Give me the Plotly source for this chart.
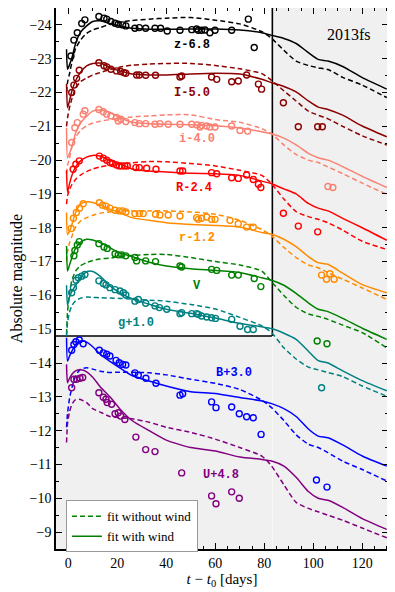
import plotly.graph_objects as go

# ---------------- data (displayed absolute magnitudes incl. offsets) ----------------
bands = ["z", "I", "i", "R", "r", "V", "g", "B", "U"]
band_labels = ["z-6.8", "I-5.0", "i-4.0", "R-2.4", "r-1.2", "V", "g+1.0", "B+3.0", "U+4.8"]
band_colors = ["#000000", "#8b0000", "#fa8072", "#ff0000", "#ff8c00",
               "#008000", "#008080", "#0000ff", "#800080"]
label_t = [50.5, 50.3, 52.5, 51.3, 52.5, 52.6, 27.6, 67.6, 62.3]
label_mag = [-23.41, -22.0, -20.62, -19.19, -17.71, -16.28, -15.19, -13.7, -10.7]

# model time grid [days]
t_model = [-0.7, -0.3, 0.5, 1.5, 3, 5, 7.5, 10, 13, 17, 21, 26, 33, 40, 50, 60, 70,
           79, 83, 88, 93, 98, 102, 106, 112, 120, 130]

# fit with wind (solid)
z_wind = [-23.28, -22.69, -22.82, -23.03, -23.45, -23.78, -23.97, -24.1, -24.12, -24.04, -23.97,
          -23.9, -23.87, -23.87, -23.88, -23.88, -23.85, -23.77, -23.69, -23.6, -23.45, -23.18,
          -22.98, -22.93, -22.77, -22.44, -22.1]
I_wind = [-22.25, -21.55, -21.75, -22.05, -22.35, -22.6, -22.79, -22.86, -22.87, -22.74, -22.64,
          -22.55, -22.52, -22.52, -22.55, -22.57, -22.55, -22.39, -22.29, -22.18, -22.02, -21.75,
          -21.57, -21.5, -21.33, -21.01, -20.69]
i_wind = [-20.96, -20.07, -20.2, -20.4, -20.8, -21.1, -21.3, -21.45, -21.48, -21.41, -21.26,
          -21.12, -21.08, -21.06, -21.05, -21.02, -20.95, -20.84, -20.78, -20.65, -20.45, -20.2,
          -20.07, -20.0, -19.81, -19.52, -19.19]
R_wind = [-19.7, -19.05, -19.3, -19.55, -19.8, -19.98, -20.09, -20.14, -20.12, -20.0, -19.9,
          -19.74, -19.68, -19.65, -19.61, -19.6, -19.55, -19.38, -19.3, -19.15, -19.0, -18.72,
          -18.58, -18.5, -18.28, -18.0, -17.63]
r_wind = [-18.45, -17.8, -17.9, -18.1, -18.45, -18.7, -18.77, -18.75, -18.67, -18.55, -18.45,
          -18.3, -18.22, -18.15, -18.1, -18.07, -18.02, -17.86, -17.81, -17.66, -17.44, -17.15,
          -16.97, -16.92, -16.66, -16.32, -16.08]
V_wind = [-17.46, -16.72, -16.9, -17.12, -17.4, -17.57, -17.66, -17.64, -17.56, -17.41, -17.26,
          -17.15, -16.98, -16.87, -16.79, -16.74, -16.68, -16.52, -16.45, -16.3, -16.06, -15.78,
          -15.59, -15.52, -15.32, -15.03, -14.7]
g_wind = [-16.3, -15.7, -15.95, -16.12, -16.3, -16.52, -16.7, -16.71, -16.57, -16.28, -16.08,
          -15.9, -15.74, -15.59, -15.47, -15.33, -15.17, -15.07, -15.02, -14.88, -14.7, -14.35,
          -14.07, -14.0, -13.77, -13.48, -13.18]
B_wind = [-14.75, -14.06, -14.2, -14.35, -14.55, -14.65, -14.62, -14.48, -14.26, -14.05, -13.86,
          -13.63, -13.47, -13.32, -13.15, -13.1, -12.98, -12.88, -12.8, -12.65, -12.42, -12.05,
          -11.84, -11.79, -11.58, -11.25, -10.95]
U_wind = [-13.96, -13.42, -13.55, -13.67, -13.77, -13.8, -13.74, -13.58, -13.3, -13.0, -12.65,
          -12.3, -12.0, -11.72, -11.5, -11.4, -11.22, -11.15, -11.1, -10.95, -10.62, -10.2,
          -10.0, -9.94, -9.73, -9.4, -9.08]

# fit without wind (dashed)
z_nowind = [-22.0, -22.3, -22.55, -22.9, -23.3, -23.55, -23.75, -23.85, -23.92, -24.02, -24.08,
            -24.13, -24.17, -24.2, -24.22, -24.14, -24.03, -23.8, -23.6, -23.25, -22.93, -22.8,
            -22.73, -22.68, -22.45, -22.22, -21.85]
I_nowind = [-21.0, -21.25, -21.55, -21.82, -22.12, -22.32, -22.43, -22.52, -22.59, -22.68, -22.75,
            -22.81, -22.84, -22.86, -22.86, -22.8, -22.7, -22.56, -22.36, -22.05, -21.75, -21.45,
            -21.33, -21.22, -21.0, -20.72, -20.45]
i_nowind = [-19.6, -19.85, -20.05, -20.4, -20.68, -20.88, -21.02, -21.1, -21.15, -21.2, -21.24,
            -21.28, -21.31, -21.34, -21.34, -21.2, -21.12, -20.93, -20.78, -20.45, -20.17, -20.0,
            -19.93, -19.8, -19.6, -19.32, -18.99]
R_nowind = [-18.7, -18.95, -19.12, -19.28, -19.43, -19.56, -19.66, -19.74, -19.8, -19.85, -19.88,
            -19.92, -19.96, -19.95, -19.9, -19.83, -19.7, -19.55, -19.3, -18.85, -18.48, -18.33,
            -18.25, -18.15, -17.93, -17.6, -17.36]
r_nowind = [-17.0, -17.3, -17.55, -17.75, -18.02, -18.2, -18.3, -18.37, -18.43, -18.47, -18.5,
            -18.5, -18.5, -18.5, -18.47, -18.4, -18.22, -17.95, -17.76, -17.42, -17.12, -16.9,
            -16.82, -16.67, -16.48, -16.22, -15.88]
V_nowind = [-14.85, -15.5, -16.05, -16.45, -16.72, -16.88, -16.97, -17.03, -17.08, -17.1, -17.15,
            -17.18, -17.21, -17.21, -17.12, -17.0, -16.9, -16.72, -16.4, -16.0, -15.65, -15.45,
            -15.38, -15.29, -15.12, -14.9, -14.45]
g_nowind = [-14.8, -15.2, -15.5, -15.7, -15.84, -15.92, -15.95, -15.94, -15.93, -15.92, -15.91,
            -15.89, -15.86, -15.83, -15.73, -15.6, -15.35, -15.1, -14.9, -14.45, -14.12, -13.88,
            -13.8, -13.72, -13.6, -13.32, -13.02]
B_nowind = [-12.1, -12.5, -12.95, -13.27, -13.62, -13.82, -13.86, -13.82, -13.76, -13.72, -13.73,
            -13.73, -13.71, -13.65, -13.52, -13.4, -13.22, -12.9, -12.68, -12.3, -11.88, -11.6,
            -11.5, -11.35, -11.1, -10.85, -10.51]
U_nowind = [-11.65, -12.2, -12.55, -12.78, -12.92, -12.92, -12.83, -12.65, -12.55, -12.42, -12.38,
            -12.35, -12.25, -12.1, -11.95, -11.75, -11.5, -11.25, -10.95, -10.4, -9.88, -9.7,
            -9.6, -9.5, -9.35, -9.12, -8.83]

# observations
z_obs_t = [1.1, 2.3, 3.7, 5.5, 6.8, 12.5, 14.6, 15.7, 17.4, 19.1, 20.4, 22.2, 23.5, 27.2, 29,
           31.6, 35.4, 37.7, 40.4, 45.6, 50.4, 52.4, 53.1, 54.4, 55.8, 57.8, 59.9, 66.7, 73.5, 75.9]
z_obs_m = [-23.08, -23.55, -23.77, -24.04, -24.15, -24.25, -24.2, -24.17, -24.1, -24.05, -24.02,
           -24.0, -23.97, -23.9, -23.92, -23.9, -23.9, -23.9, -23.82, -23.84, -23.86, -23.88,
           -23.84, -23.84, -23.85, -23.77, -23.84, -23.84, -24.17, -23.33]
I_obs_t = [1.4, 2.3, 3.4, 4.5, 12.5, 14.6, 15.7, 17.4, 19.7, 21.4, 22.7, 23.5, 27.9, 29, 31.6,
           35.6, 45.6, 46.3, 58.5, 60.6, 66.7, 69.4, 72.8, 77.6, 78.9, 87.8, 93.9, 101.8, 103.7]
I_obs_m = [-22.0, -22.22, -22.42, -22.66, -22.88, -22.79, -22.76, -22.69, -22.64, -22.62, -22.59,
           -22.57, -22.52, -22.52, -22.51, -22.51, -22.46, -22.49, -22.46, -22.39, -22.32, -22.34,
           -22.52, -22.25, -22.1, -21.7, -20.99, -20.99, -20.99]
i_obs_t = [1.4, 2.7, 3.7, 6.1, 6.8, 12.5, 14.3, 15.7, 17.4, 19.7, 20.4, 21.4, 23.5, 27.2, 29,
           31.6, 35.4, 37.4, 40.8, 45.6, 50.4, 52.6, 53.8, 54.4, 56.5, 57.8, 59.9, 66.7, 70.1,
           73.2, 106, 108]
i_obs_m = [-20.52, -20.96, -21.11, -21.36, -21.46, -21.5, -21.43, -21.36, -21.31, -21.26, -21.16,
           -21.21, -21.14, -21.11, -21.08, -21.08, -21.06, -21.08, -21.06, -21.06, -21.06, -21.04,
           -20.98, -21.03, -21.01, -20.98, -20.98, -21.01, -20.88, -20.86, -19.22, -19.19]
R_obs_t = [2.0, 3.1, 4.5, 12.7, 14.3, 15.7, 17, 18.1, 19.7, 20.8, 21.8, 23.1, 24.1, 27.6, 29, 32,
           35.8, 45.6, 46.7, 58.5, 60.6, 66.7, 69.4, 72.8, 75.5, 77.6, 78.6, 87.8, 93.9, 101.8]
R_obs_m = [-19.73, -19.88, -19.98, -20.12, -20.06, -20.0, -19.93, -19.9, -19.86, -19.83, -19.83,
           -19.83, -19.83, -19.78, -19.78, -19.76, -19.73, -19.68, -19.68, -19.63, -19.6, -19.48,
           -19.46, -19.56, -19.43, -19.29, -19.19, -18.43, -18.05, -17.88]
r_obs_t = [1.2, 2.1, 3.3, 4.6, 6.1, 12.7, 14, 15.4, 17, 19.1, 20.8, 22.2, 23.5, 27.2, 29, 30.6,
           35.6, 37.4, 40.8, 45.6, 52.4, 53.1, 54.4, 56.5, 58.5, 59.9, 66, 69.4, 72.8, 75.5,
           103.4, 105.4, 106.8, 108.5]
r_obs_m = [-17.98, -18.28, -18.45, -18.58, -18.71, -18.74, -18.67, -18.64, -18.58, -18.52, -18.5,
           -18.5, -18.47, -18.42, -18.42, -18.42, -18.4, -18.38, -18.38, -18.35, -18.3, -18.25,
           -18.28, -18.32, -18.25, -18.25, -18.22, -18.12, -18.02, -18.02, -16.6, -16.48,
           -16.64, -16.48]
V_obs_t = [2.3, 2.7, 3.7, 4.5, 12.5, 14.6, 15.9, 19.1, 20.4, 21.8, 23.5, 27.2, 27.9, 31.6, 35.6,
           45.6, 46.3, 58.5, 60.6, 66.7, 69.4, 75.9, 78.6, 101.6, 105.6]
V_obs_m = [-17.17, -17.33, -17.49, -17.59, -17.53, -17.43, -17.39, -17.23, -17.2, -17.2, -17.17,
           -17.12, -17.02, -17.02, -17.0, -16.87, -16.84, -16.77, -16.74, -16.6, -16.6, -16.5,
           -16.26, -14.65, -14.57]
g_obs_t = [1.4, 2.1, 3.2, 4.1, 5.5, 6.8, 12.5, 14.3, 15.4, 17, 19.1, 21.1, 22.5, 23.5, 27.2, 28.6,
           31.6, 35.4, 37.2, 40.2, 45.6, 46.3, 50.4, 52.4, 53.1, 54.4, 56.5, 58.5, 60.1, 66.7,
           70.1, 73.2, 75.5, 103.4]
g_obs_m = [-16.08, -16.23, -16.45, -16.52, -16.57, -16.62, -16.43, -16.35, -16.31, -16.23, -16.17,
           -16.13, -16.08, -16.01, -15.83, -15.88, -15.77, -15.69, -15.64, -15.59, -15.46, -15.49,
           -15.46, -15.46, -15.44, -15.39, -15.36, -15.34, -15.32, -15.29, -15.09, -14.99,
           -14.99, -13.27]
B_obs_t = [1.4, 2.3, 3.1, 4.5, 6.1, 12.7, 14.3, 15.7, 17, 19.5, 20.8, 22.2, 23.5, 27.2, 28.6,
           31.7, 35.8, 45.6, 46.7, 58.5, 60.3, 66.7, 69.8, 72.8, 75.5, 78.7, 101.3, 105.6]
B_obs_m = [-14.38, -14.55, -14.63, -14.68, -14.57, -14.38, -14.3, -14.26, -14.21, -14.08, -14.01,
           -13.96, -13.94, -13.71, -13.64, -13.55, -13.4, -13.05, -13.09, -12.85, -12.68, -12.7,
           -12.5, -12.41, -12.38, -11.89, -10.54, -10.33]
U_obs_t = [1.4, 2.3, 3.4, 4.8, 5.9, 12.5, 14.3, 15.4, 15.9, 17.7, 19.1, 20.4, 21.4, 23.1, 27.6,
           31.6, 35.4, 46.3, 58.5, 60.3, 66.7, 69.8]
U_obs_m = [-13.27, -13.52, -13.52, -13.55, -13.57, -13.12, -12.99, -12.93, -12.83, -12.78, -12.5,
           -12.53, -12.43, -12.33, -11.81, -11.44, -11.38, -10.75, -10.07, -9.84, -10.19, -10.0]

wind = [z_wind, I_wind, i_wind, R_wind, r_wind, V_wind, g_wind, B_wind, U_wind]
nowind = [z_nowind, I_nowind, i_nowind, R_nowind, r_nowind, V_nowind, g_nowind, B_nowind, U_nowind]
obs_t = [z_obs_t, I_obs_t, i_obs_t, R_obs_t, r_obs_t, V_obs_t, g_obs_t, B_obs_t, U_obs_t]
obs_m = [z_obs_m, I_obs_m, i_obs_m, R_obs_m, r_obs_m, V_obs_m, g_obs_m, B_obs_m, U_obs_m]

x_range = [-5, 130.5]
y_range = [-8.5, -24.5]
box_t = 83.3
box_mag = -14.8

SERIF = "Liberation Serif, Times New Roman, serif"
MONO = "Liberation Mono, Courier New, monospace"

fig = go.Figure()

for k in range(len(bands)):
    col = band_colors[k]
    fig.add_trace(go.Scatter(x=t_model, y=nowind[k], mode="lines",
                             line=dict(color=col, width=1.5, dash="5px,3px",
                                       shape="spline", smoothing=0.6),
                             showlegend=False, hoverinfo="skip"))
    fig.add_trace(go.Scatter(x=t_model, y=wind[k], mode="lines",
                             line=dict(color=col, width=1.5, shape="spline", smoothing=0.6),
                             showlegend=False, hoverinfo="skip"))
    fig.add_trace(go.Scatter(x=obs_t[k], y=obs_m[k], mode="markers",
                             marker=dict(symbol="circle-open", size=6, color=col,
                                         line=dict(width=1.4, color=col)),
                             showlegend=False, hoverinfo="skip"))
    fig.add_annotation(x=label_t[k], y=label_mag[k], text="<b>" + band_labels[k] + "</b>",
                       showarrow=False, font=dict(family=MONO, size=12, color=col),
                       xanchor="center", yanchor="middle")

# legend entries
fig.add_trace(go.Scatter(x=[None], y=[None], mode="lines", name="fit without wind",
                         line=dict(color="#008000", width=1.5, dash="5px,3px")))
fig.add_trace(go.Scatter(x=[None], y=[None], mode="lines", name="fit with wind",
                         line=dict(color="#008000", width=1.5)))

# white inset region + frame
fig.add_shape(type="rect", x0=x_range[0], x1=box_t, y0=y_range[1], y1=box_mag,
              fillcolor="white", line=dict(width=0), layer="below")
fig.add_shape(type="line", x0=box_t, x1=box_t, y0=y_range[1], y1=box_mag,
              line=dict(color="black", width=1.6), layer="below")
fig.add_shape(type="line", x0=x_range[0], x1=box_t, y0=box_mag, y1=box_mag,
              line=dict(color="black", width=1.6), layer="below")
fig.add_shape(type="line", x0=box_t, x1=box_t, y0=box_mag, y1=y_range[0],
              line=dict(color="#f8f8f8", width=1), layer="below")

fig.add_annotation(x=114.6, y=-23.73, text="2013fs", showarrow=False,
                   font=dict(family=SERIF, size=16, color="black"))

# the page body adds an 8 px offset, so the figure is 8 px smaller than the window
fig.update_layout(
    width=387, height=584,
    margin=dict(l=48, r=7, t=0, b=43, autoexpand=False),
    paper_bgcolor="white", plot_bgcolor="#f0f0f0",
    font=dict(family=SERIF, size=14, color="black"),
    legend=dict(x=0.03, y=0.09, xanchor="left", yanchor="top",
                bgcolor="white", bordercolor="#999999", borderwidth=1,
                font=dict(family=SERIF, size=13), itemwidth=30,
                tracegroupgap=0),
)
fig.update_xaxes(range=x_range, showgrid=False, zeroline=False, automargin=False,
                 showline=True, linecolor="black", linewidth=1.5, mirror="ticks",
                 ticks="inside", ticklen=6, tickwidth=1, tickcolor="black",
                 dtick=20, tick0=0,
                 minor=dict(ticks="inside", ticklen=3, dtick=5, tick0=0, tickcolor="black"),
                 tickfont=dict(family=SERIF, size=14),
                 title=dict(text="<i>t</i> − <i>t</i><sub>0</sub> [days]",
                            font=dict(family=SERIF, size=15), standoff=2))
fig.update_yaxes(range=y_range, showgrid=False, zeroline=False, automargin=False,
                 showline=True, linecolor="black", linewidth=1.5, mirror="ticks",
                 ticks="inside", ticklen=6, tickwidth=1, tickcolor="black",
                 dtick=1, tick0=0,
                 minor=dict(ticks="inside", ticklen=3, dtick=0.5, tick0=0, tickcolor="black"),
                 tickfont=dict(family=SERIF, size=14),
                 title=dict(text="Absolute magnitude", font=dict(family=SERIF, size=16),
                            standoff=6))

fig.write_html("out.html")
